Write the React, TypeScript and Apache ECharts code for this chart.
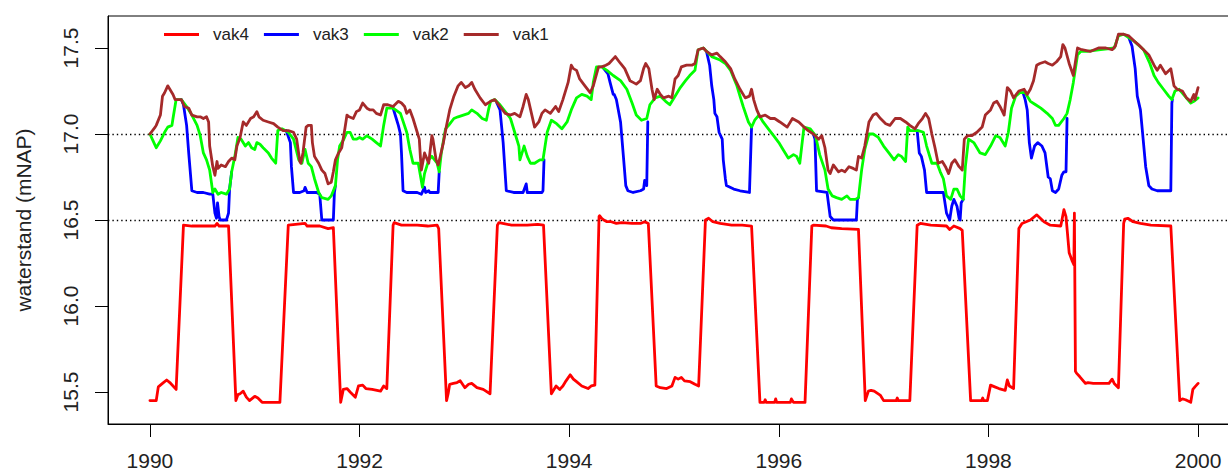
import React, { useEffect, useRef } from "react";
import * as echarts from "echarts";

const X_TICKS = [1990, 1992, 1994, 1996, 1998, 2000];
const Y_TICKS = [15.5, 16.0, 16.5, 17.0, 17.5];
const REF_LEVELS = [17.0, 16.5];
const SERIES_NAMES = ["vak4", "vak3", "vak2", "vak1"];
const SERIES_COLORS = ["#FF0000", "#0000FF", "#00FF00", "#A52A2A"];

const vak4: number[][] = [
  [1990.00,15.45],[1990.06,15.45],[1990.08,15.53],[1990.12,15.55],[1990.16,15.57],[1990.19,15.555],[1990.25,15.515],
  [1990.32,16.47],[1990.40,16.465],[1990.50,16.465],[1990.62,16.465],[1990.64,16.48],[1990.66,16.465],[1990.75,16.465],
  [1990.82,15.45],[1990.84,15.485],[1990.86,15.49],[1990.89,15.505],[1990.92,15.47],[1990.95,15.45],[1991.00,15.475],[1991.03,15.465],[1991.07,15.44],[1991.24,15.44],
  [1991.32,16.47],[1991.48,16.48],[1991.50,16.465],[1991.62,16.465],[1991.70,16.45],[1991.75,16.455],
  [1991.82,15.44],[1991.845,15.515],[1991.88,15.52],[1991.91,15.50],[1991.96,15.47],[1991.99,15.535],[1992.03,15.54],[1992.06,15.52],[1992.12,15.515],[1992.20,15.505],[1992.23,15.535],[1992.26,15.52],
  [1992.32,16.47],[1992.33,16.485],[1992.40,16.47],[1992.55,16.47],[1992.65,16.465],[1992.74,16.47],[1992.755,16.45],
  [1992.83,15.45],[1992.845,15.49],[1992.86,15.545],[1992.895,15.55],[1992.93,15.555],[1992.96,15.565],[1993.005,15.525],[1993.04,15.545],[1993.07,15.55],[1993.12,15.525],[1993.18,15.515],[1993.245,15.49],
  [1993.315,16.47],[1993.33,16.485],[1993.45,16.47],[1993.60,16.47],[1993.70,16.475],[1993.755,16.47],
  [1993.83,15.49],[1993.875,15.535],[1993.91,15.515],[1993.94,15.535],[1993.97,15.565],[1994.01,15.60],[1994.04,15.575],[1994.07,15.56],[1994.12,15.535],[1994.18,15.52],[1994.21,15.535],[1994.245,15.54],
  [1994.285,16.52],[1994.29,16.525],[1994.31,16.51],[1994.33,16.50],[1994.36,16.49],[1994.40,16.49],[1994.45,16.48],[1994.50,16.485],[1994.60,16.48],[1994.68,16.48],[1994.72,16.49],[1994.755,16.48],
  [1994.83,15.535],[1994.87,15.525],[1994.93,15.52],[1994.98,15.535],[1995.01,15.585],[1995.04,15.575],[1995.07,15.585],[1995.10,15.565],[1995.155,15.56],[1995.20,15.545],[1995.235,15.535],
  [1995.30,16.50],[1995.33,16.51],[1995.37,16.49],[1995.44,16.48],[1995.55,16.47],[1995.65,16.47],[1995.74,16.465],
  [1995.82,15.44],[1995.86,15.44],[1995.87,15.455],[1995.88,15.44],[1995.96,15.44],[1995.97,15.46],[1995.98,15.44],[1996.11,15.44],[1996.12,15.46],[1996.13,15.45],[1996.14,15.44],[1996.25,15.44],
  [1996.315,16.465],[1996.33,16.47],[1996.45,16.465],[1996.50,16.455],[1996.60,16.45],[1996.76,16.445],
  [1996.825,15.45],[1996.855,15.505],[1996.88,15.51],[1996.91,15.505],[1996.97,15.48],[1997.00,15.45],[1997.12,15.45],[1997.13,15.465],[1997.14,15.45],[1997.25,15.45],
  [1997.32,16.47],[1997.35,16.48],[1997.45,16.47],[1997.60,16.465],[1997.63,16.445],[1997.67,16.465],[1997.73,16.45],[1997.75,16.44],
  [1997.83,15.45],[1997.935,15.45],[1997.945,15.465],[1997.955,15.45],[1997.99,15.45],[1998.02,15.54],[1998.06,15.53],[1998.10,15.52],[1998.16,15.51],[1998.18,15.57],[1998.20,15.535],[1998.24,15.52],
  [1998.29,16.45],[1998.32,16.48],[1998.40,16.50],[1998.46,16.53],[1998.53,16.49],[1998.59,16.47],[1998.69,16.465],[1998.72,16.56],[1998.74,16.52],[1998.75,16.45],
  [1998.77,16.31],[1998.80,16.26],[1998.815,16.24],[1998.82,16.54],[1998.83,15.62],
  [1998.84,15.61],[1998.87,15.59],[1998.925,15.55],[1998.95,15.555],[1999.00,15.55],[1999.07,15.55],[1999.15,15.55],[1999.18,15.575],[1999.20,15.55],[1999.24,15.525],
  [1999.29,16.48],[1999.30,16.505],[1999.33,16.51],[1999.38,16.49],[1999.45,16.48],[1999.55,16.47],[1999.74,16.465],
  [1999.825,15.45],[1999.85,15.46],[1999.88,15.455],[1999.93,15.44],[1999.95,15.515],[1999.97,15.53],[2000.00,15.55],
];

// vak3 is drawn only where it departs from vak2 (elsewhere it lies under vak2)
const vak3: number[][][] = [
  [[1990.30,17.20],[1990.32,17.17],[1990.35,17.05],[1990.37,16.89],[1990.40,16.67],[1990.45,16.66],[1990.51,16.66],[1990.57,16.65],[1990.60,16.65],[1990.62,16.54],[1990.635,16.51],[1990.645,16.60],[1990.66,16.52],[1990.67,16.50],[1990.73,16.50],[1990.75,16.54],[1990.76,16.68],[1990.78,16.78]],
  [[1991.30,17.02],[1991.34,16.95],[1991.35,16.81],[1991.37,16.66],[1991.43,16.66],[1991.47,16.67],[1991.48,16.69],[1991.50,16.66],[1991.59,16.66],[1991.62,16.65],[1991.64,16.50],[1991.75,16.50],[1991.76,16.66],[1991.77,16.70]],
  [[1992.32,17.15],[1992.35,17.09],[1992.37,17.05],[1992.39,17.00],[1992.40,16.89],[1992.415,16.67],[1992.45,16.66],[1992.55,16.66],[1992.59,16.65],[1992.62,16.69],[1992.63,16.66],[1992.66,16.67],[1992.67,16.66],[1992.75,16.66],[1992.76,16.78]],
  [[1993.31,17.18],[1993.34,17.14],[1993.37,16.95],[1993.40,16.67],[1993.47,16.66],[1993.56,16.66],[1993.59,16.71],[1993.60,16.66],[1993.74,16.66],[1993.75,16.67],[1993.76,16.85]],
  [[1994.33,17.38],[1994.37,17.35],[1994.39,17.30],[1994.42,17.23],[1994.43,17.23],[1994.45,17.20],[1994.49,17.07],[1994.52,16.85],[1994.54,16.70],[1994.56,16.67],[1994.61,16.66],[1994.68,16.67],[1994.71,16.68],[1994.72,16.73],[1994.74,16.70],[1994.75,17.07]],
  [[1995.31,17.48],[1995.34,17.40],[1995.36,17.28],[1995.38,17.20],[1995.39,17.12],[1995.41,17.10],[1995.43,17.01],[1995.46,16.97],[1995.47,16.85],[1995.49,16.74],[1995.50,16.70],[1995.57,16.68],[1995.63,16.67],[1995.72,16.66],[1995.74,17.04]],
  [[1996.33,17.00],[1996.345,16.97],[1996.36,16.67],[1996.46,16.66],[1996.49,16.52],[1996.52,16.50],[1996.74,16.50],[1996.75,16.62],[1996.76,16.63]],
  [[1997.32,17.02],[1997.34,16.89],[1997.36,16.87],[1997.39,16.79],[1997.41,16.66],[1997.48,16.66],[1997.57,16.66],[1997.60,16.54],[1997.63,16.50],[1997.65,16.58],[1997.67,16.62],[1997.70,16.58],[1997.72,16.51],[1997.73,16.50],[1997.74,16.60],[1997.76,16.62]],
  [[1998.33,17.24],[1998.35,17.20],[1998.37,17.14],[1998.39,16.95],[1998.41,16.86],[1998.44,16.93],[1998.47,16.95],[1998.51,16.93],[1998.54,16.89],[1998.57,16.75],[1998.59,16.74],[1998.61,16.67],[1998.64,16.66],[1998.67,16.68],[1998.70,16.76],[1998.72,16.78],[1998.74,16.78],[1998.75,17.09]],
  [[1999.34,17.56],[1999.37,17.51],[1999.40,17.38],[1999.42,17.22],[1999.45,17.14],[1999.47,17.01],[1999.50,16.81],[1999.53,16.70],[1999.56,16.68],[1999.61,16.67],[1999.67,16.67],[1999.74,16.67],[1999.75,17.18],[1999.755,17.20]],
];

const vak2: number[][] = [
  [1990.00,17.00],[1990.03,16.96],[1990.06,16.92],[1990.10,16.96],[1990.14,17.01],[1990.17,17.04],[1990.21,17.05],[1990.22,17.09],[1990.25,17.20],[1990.30,17.20],[1990.35,17.16],[1990.40,17.11],[1990.45,17.05],[1990.48,16.99],[1990.51,16.89],[1990.54,16.85],[1990.57,16.79],[1990.60,16.66],[1990.62,16.68],[1990.65,16.65],[1990.68,16.66],[1990.73,16.65],[1990.76,16.68],[1990.78,16.78],[1990.81,16.87],[1990.84,16.98],[1990.87,16.97],[1990.91,16.93],[1990.94,16.95],[1990.97,16.92],[1991.00,16.91],[1991.02,16.95],[1991.05,16.94],[1991.08,16.92],[1991.13,16.89],[1991.16,16.86],[1991.20,16.83],
  [1991.22,17.02],[1991.26,17.03],[1991.32,17.01],[1991.37,16.97],[1991.42,16.85],[1991.45,16.83],[1991.48,16.91],[1991.51,16.83],[1991.54,16.81],[1991.57,16.74],[1991.61,16.66],[1991.64,16.63],[1991.70,16.62],[1991.73,16.64],[1991.77,16.70],[1991.79,16.85],[1991.81,16.93],[1991.85,16.97],[1991.88,17.01],[1991.91,17.01],[1991.94,16.97],[1991.97,16.97],[1992.00,16.98],[1992.03,16.97],[1992.07,16.99],[1992.12,16.97],[1992.16,16.95],[1992.20,16.93],
  [1992.23,17.05],[1992.26,17.15],[1992.32,17.15],[1992.39,17.12],[1992.45,17.01],[1992.48,16.91],[1992.51,16.83],[1992.56,16.83],[1992.60,16.69],[1992.62,16.77],[1992.66,16.85],[1992.69,16.87],[1992.74,16.83],[1992.76,16.78],[1992.78,16.89],[1992.82,17.03],[1992.85,17.05],[1992.90,17.09],[1992.94,17.10],[1992.99,17.11],[1993.04,17.12],[1993.07,17.14],[1993.12,17.12],[1993.17,17.09],[1993.21,17.08],
  [1993.23,17.14],[1993.25,17.19],[1993.29,17.20],[1993.34,17.17],[1993.39,17.13],[1993.44,17.09],[1993.48,17.01],[1993.52,16.93],[1993.53,16.85],[1993.57,16.93],[1993.60,16.87],[1993.63,16.83],[1993.67,16.83],[1993.72,16.85],[1993.75,16.85],[1993.79,17.01],[1993.83,17.08],[1993.88,17.06],[1993.93,17.03],[1993.98,17.07],[1994.02,17.14],[1994.07,17.21],[1994.12,17.23],[1994.17,17.22],[1994.21,17.20],
  [1994.23,17.30],[1994.26,17.39],[1994.31,17.39],[1994.36,17.37],[1994.42,17.34],[1994.49,17.31],[1994.55,17.26],[1994.60,17.18],[1994.64,17.11],[1994.69,17.08],[1994.74,17.09],[1994.77,17.17],[1994.82,17.21],[1994.87,17.22],[1994.92,17.19],[1994.96,17.17],[1995.01,17.22],[1995.06,17.27],[1995.11,17.31],[1995.15,17.34],[1995.20,17.37],
  [1995.23,17.49],[1995.28,17.50],[1995.36,17.45],[1995.44,17.43],[1995.49,17.41],[1995.54,17.37],[1995.60,17.28],[1995.66,17.16],[1995.71,17.07],[1995.74,17.04],[1995.77,17.08],[1995.81,17.11],[1995.85,17.07],[1995.90,17.03],[1995.95,16.99],[1996.00,16.95],[1996.04,16.91],[1996.09,16.86],[1996.14,16.88],[1996.17,16.87],[1996.20,16.83],
  [1996.24,17.04],[1996.30,17.03],[1996.35,16.99],[1996.39,16.88],[1996.44,16.79],[1996.47,16.68],[1996.51,16.64],[1996.55,16.63],[1996.60,16.62],[1996.65,16.64],[1996.68,16.62],[1996.73,16.62],[1996.76,16.63],[1996.79,16.79],[1996.82,16.91],[1996.86,17.00],[1996.90,17.00],[1996.95,16.98],[1997.00,16.93],[1997.05,16.89],[1997.10,16.85],[1997.14,16.88],[1997.17,16.87],[1997.21,16.84],
  [1997.23,17.04],[1997.25,17.02],[1997.33,17.02],[1997.38,17.01],[1997.41,16.93],[1997.46,16.83],[1997.51,16.83],[1997.54,16.78],[1997.57,16.74],[1997.60,16.64],[1997.64,16.62],[1997.67,16.68],[1997.70,16.68],[1997.73,16.64],[1997.76,16.62],[1997.78,16.81],[1997.81,16.97],[1997.86,16.95],[1997.92,16.89],[1997.97,16.88],[1998.02,16.93],[1998.07,16.99],[1998.11,16.98],[1998.16,16.93],
  [1998.19,17.01],[1998.22,17.15],[1998.26,17.22],[1998.30,17.24],[1998.35,17.24],[1998.40,17.19],[1998.45,17.17],[1998.50,17.15],[1998.56,17.12],[1998.61,17.09],[1998.64,17.05],[1998.67,17.05],[1998.72,17.09],[1998.75,17.12],[1998.78,17.20],[1998.81,17.30],[1998.85,17.46],[1998.88,17.48],[1998.94,17.48],[1999.07,17.49],[1999.20,17.50],
  [1999.24,17.57],[1999.29,17.58],[1999.39,17.54],[1999.48,17.49],[1999.54,17.41],[1999.58,17.34],[1999.62,17.30],[1999.67,17.26],[1999.72,17.22],[1999.75,17.20],[1999.78,17.25],[1999.82,17.26],[1999.86,17.23],[1999.93,17.18],[1999.96,17.19],[2000.00,17.21],
];

const vak1: number[][] = [
  [1990.00,17.00],[1990.05,17.04],[1990.06,17.05],[1990.10,17.11],[1990.12,17.22],[1990.14,17.24],[1990.17,17.28],[1990.19,17.26],[1990.22,17.23],[1990.24,17.20],[1990.26,17.20],[1990.30,17.20],[1990.33,17.16],[1990.37,17.15],[1990.40,17.11],[1990.45,17.10],[1990.48,17.10],[1990.51,17.09],[1990.54,17.10],[1990.56,17.07],
  [1990.57,16.93],[1990.60,16.81],[1990.62,16.76],[1990.64,16.84],[1990.65,16.80],[1990.68,16.82],[1990.72,16.81],[1990.75,16.84],[1990.78,16.86],[1990.81,16.85],[1990.83,16.93],[1990.86,16.98],[1990.89,17.07],[1990.92,17.05],[1990.96,17.09],[1990.99,17.10],[1991.02,17.13],[1991.04,17.10],[1991.08,17.08],[1991.13,17.07],[1991.18,17.06],[1991.22,17.04],[1991.27,17.02],[1991.32,17.02],[1991.37,17.01],
  [1991.40,16.97],[1991.43,16.84],[1991.44,16.83],[1991.46,16.89],[1991.49,17.04],[1991.51,17.05],[1991.54,17.05],[1991.55,16.95],[1991.57,16.87],[1991.61,16.83],[1991.64,16.79],[1991.67,16.77],[1991.70,16.71],[1991.73,16.72],[1991.75,16.78],[1991.77,16.85],[1991.80,16.89],[1991.83,16.92],[1991.86,17.03],[1991.88,17.11],[1991.90,17.10],[1991.94,17.09],[1991.97,17.13],[1992.00,17.14],[1992.03,17.18],[1992.07,17.15],[1992.10,17.14],[1992.13,17.14],[1992.16,17.12],[1992.20,17.11],[1992.23,17.17],[1992.27,17.17],[1992.32,17.16],[1992.37,17.19],[1992.40,17.18],[1992.43,17.16],[1992.45,17.12],[1992.48,17.14],[1992.51,17.09],[1992.55,17.01],[1992.57,16.97],
  [1992.58,16.87],[1992.59,16.79],[1992.62,16.89],[1992.66,16.83],[1992.69,16.99],[1992.70,16.97],[1992.73,16.85],[1992.75,16.82],[1992.77,16.87],[1992.80,16.95],[1992.83,17.05],[1992.86,17.14],[1992.90,17.22],[1992.94,17.28],[1992.97,17.30],[1993.01,17.27],[1993.04,17.28],[1993.07,17.30],[1993.10,17.26],[1993.15,17.21],[1993.20,17.17],[1993.25,17.19],[1993.29,17.20],[1993.34,17.16],[1993.39,17.12],[1993.44,17.11],[1993.48,17.12],[1993.53,17.10],[1993.56,17.16],[1993.59,17.23],[1993.61,17.20],[1993.64,17.12],[1993.67,17.04],[1993.71,17.07],[1993.74,17.12],[1993.77,17.14],[1993.82,17.12],[1993.87,17.16],[1993.90,17.13],[1993.94,17.20],[1993.99,17.30],
  [1994.02,17.40],[1994.04,17.38],[1994.07,17.37],[1994.10,17.32],[1994.15,17.28],[1994.20,17.24],[1994.23,17.28],[1994.28,17.39],[1994.31,17.39],[1994.35,17.40],[1994.38,17.41],[1994.44,17.45],[1994.49,17.41],[1994.53,17.38],[1994.58,17.31],[1994.61,17.30],[1994.64,17.29],[1994.68,17.31],[1994.71,17.38],[1994.73,17.41],[1994.76,17.38],[1994.79,17.26],[1994.81,17.20],[1994.84,17.26],[1994.87,17.23],[1994.90,17.21],[1994.95,17.22],[1994.98,17.21],
  [1995.01,17.32],[1995.04,17.34],[1995.07,17.39],[1995.12,17.40],[1995.17,17.40],[1995.20,17.41],[1995.23,17.49],[1995.28,17.50],[1995.31,17.48],[1995.36,17.46],[1995.41,17.47],[1995.44,17.45],[1995.49,17.42],[1995.54,17.38],[1995.58,17.32],[1995.63,17.26],[1995.68,17.21],[1995.72,17.22],[1995.74,17.26],[1995.76,17.20],[1995.79,17.14],[1995.82,17.10],[1995.87,17.11],[1995.92,17.09],[1995.96,17.09],[1996.01,17.07],[1996.08,17.04],[1996.13,17.09],[1996.19,17.07],[1996.24,17.04],[1996.28,17.02],[1996.33,17.00],[1996.38,16.97],
  [1996.41,16.99],[1996.44,16.92],[1996.47,16.79],[1996.49,16.77],[1996.52,16.82],[1996.57,16.78],[1996.60,16.79],[1996.63,16.78],[1996.67,16.81],[1996.71,16.80],[1996.74,16.79],[1996.76,16.87],[1996.79,16.86],[1996.82,16.93],[1996.86,17.07],[1996.90,17.11],[1996.93,17.12],[1996.97,17.09],[1997.02,17.06],[1997.06,17.05],[1997.11,17.09],[1997.16,17.09],[1997.21,17.07],[1997.25,17.05],[1997.30,17.03],[1997.33,17.06],[1997.37,17.09],[1997.40,17.12],[1997.43,17.09],
  [1997.46,17.00],[1997.49,16.92],[1997.52,16.83],[1997.56,16.84],[1997.59,16.81],[1997.62,16.77],[1997.65,16.83],[1997.68,16.85],[1997.72,16.81],[1997.75,16.79],[1997.77,16.97],[1997.80,16.99],[1997.84,16.99],[1997.89,17.01],[1997.94,17.04],[1997.97,17.11],[1998.02,17.14],[1998.05,17.18],[1998.08,17.19],[1998.11,17.16],[1998.15,17.11],[1998.18,17.27],[1998.21,17.25],[1998.24,17.21],[1998.29,17.25],[1998.34,17.26],[1998.37,17.23],[1998.40,17.26],[1998.43,17.31],
  [1998.46,17.40],[1998.49,17.41],[1998.54,17.42],[1998.57,17.41],[1998.61,17.40],[1998.65,17.42],[1998.69,17.45],[1998.71,17.52],[1998.73,17.50],[1998.77,17.41],[1998.81,17.34],[1998.85,17.50],[1998.89,17.49],[1998.97,17.48],[1999.05,17.50],[1999.12,17.50],[1999.18,17.49],[1999.21,17.51],[1999.24,17.58],[1999.29,17.58],[1999.34,17.57],[1999.39,17.54],[1999.43,17.52],[1999.48,17.49],[1999.53,17.46],[1999.58,17.40],[1999.61,17.37],[1999.64,17.40],[1999.69,17.35],[1999.74,17.38],[1999.77,17.28],[1999.80,17.26],[1999.85,17.25],[1999.89,17.21],[1999.93,17.19],[1999.96,17.23],[1999.97,17.20],[2000.00,17.27],
];

const FONT = "'Liberation Sans', Arial, Helvetica, sans-serif";

function joinSegments(segs: number[][][]): (number | null)[][] {
  const out: (number | null)[][] = [];
  segs.forEach((s, i) => {
    if (i > 0) out.push([s[0][0], null]);
    s.forEach((p) => out.push(p));
  });
  return out;
}

export default function App() {
  const ref = useRef<HTMLDivElement>(null);
  useEffect(() => {
    if (!ref.current) return;
    const chart = echarts.init(ref.current, undefined, { renderer: "svg" });
    const dataSets = [vak4, joinSegments(vak3), vak2, vak1];
    const series: any[] = SERIES_NAMES.map((name, i) => ({
      name,
      type: "line",
      data: dataSets[i],
      symbol: "none",
      showSymbol: false,
      connectNulls: false,
      silent: true,
      color: SERIES_COLORS[i],
      lineStyle: { color: SERIES_COLORS[i], width: 2.8, cap: "round", join: "round" },
      z: 2 + i,
    }));
    series[0].markLine = {
      silent: true,
      symbol: ["none", "none"],
      label: { show: false },
      lineStyle: { color: "#000", width: 1.4, type: [1.4, 3] },
      data: REF_LEVELS.map((v) => ({ yAxis: v })),
      z: 1,
    };
    chart.setOption({
      animation: false,
      backgroundColor: "#ffffff",
      grid: {
        left: 108,
        top: 16,
        width: 1132,
        height: 408,
        show: true,
        borderColor: "#000",
        borderWidth: 1,
        backgroundColor: "transparent",
      },
      legend: {
        data: SERIES_NAMES,
        left: 164,
        top: 26,
        padding: 0,
        icon: "rect",
        itemWidth: 35,
        itemHeight: 3,
        itemGap: 15,
        textStyle: { fontSize: 17, color: "#222", fontFamily: FONT, padding: [0, 0, 0, 9] },
        selectedMode: false,
      },
      xAxis: {
        type: "value",
        min: 1989.6,
        max: 2000.4,
        axisLine: { show: true, lineStyle: { color: "#000", width: 1 } },
        axisTick: { show: true, customValues: X_TICKS, length: 13, lineStyle: { color: "#000" } },
        axisLabel: {
          customValues: X_TICKS,
          fontSize: 21,
          margin: 26,
          color: "#222",
          fontFamily: FONT,
          formatter: (v: number) => String(Math.round(v)),
        },
        splitLine: { show: false },
      },
      yAxis: {
        type: "value",
        min: 15.314,
        max: 17.686,
        name: "waterstand (mNAP)",
        nameLocation: "middle",
        nameGap: 74,
        nameTextStyle: { fontSize: 21, color: "#222", fontFamily: FONT },
        axisLine: { show: true, lineStyle: { color: "#000", width: 1 } },
        axisTick: { show: true, customValues: Y_TICKS, length: 13, lineStyle: { color: "#000" } },
        axisLabel: {
          customValues: Y_TICKS,
          rotate: 90,
          fontSize: 21,
          margin: 27,
          color: "#222",
          fontFamily: FONT,
          formatter: (v: number) => v.toFixed(1),
        },
        splitLine: { show: false },
      },
      series,
    });
    return () => chart.dispose();
  }, []);
  return (
    <div
      style={{ position: "absolute", left: 0, top: 0, width: 1228, height: 471, overflow: "hidden", background: "#fff" }}
    >
      <div ref={ref} style={{ width: 1270, height: 471 }} />
    </div>
  );
}
